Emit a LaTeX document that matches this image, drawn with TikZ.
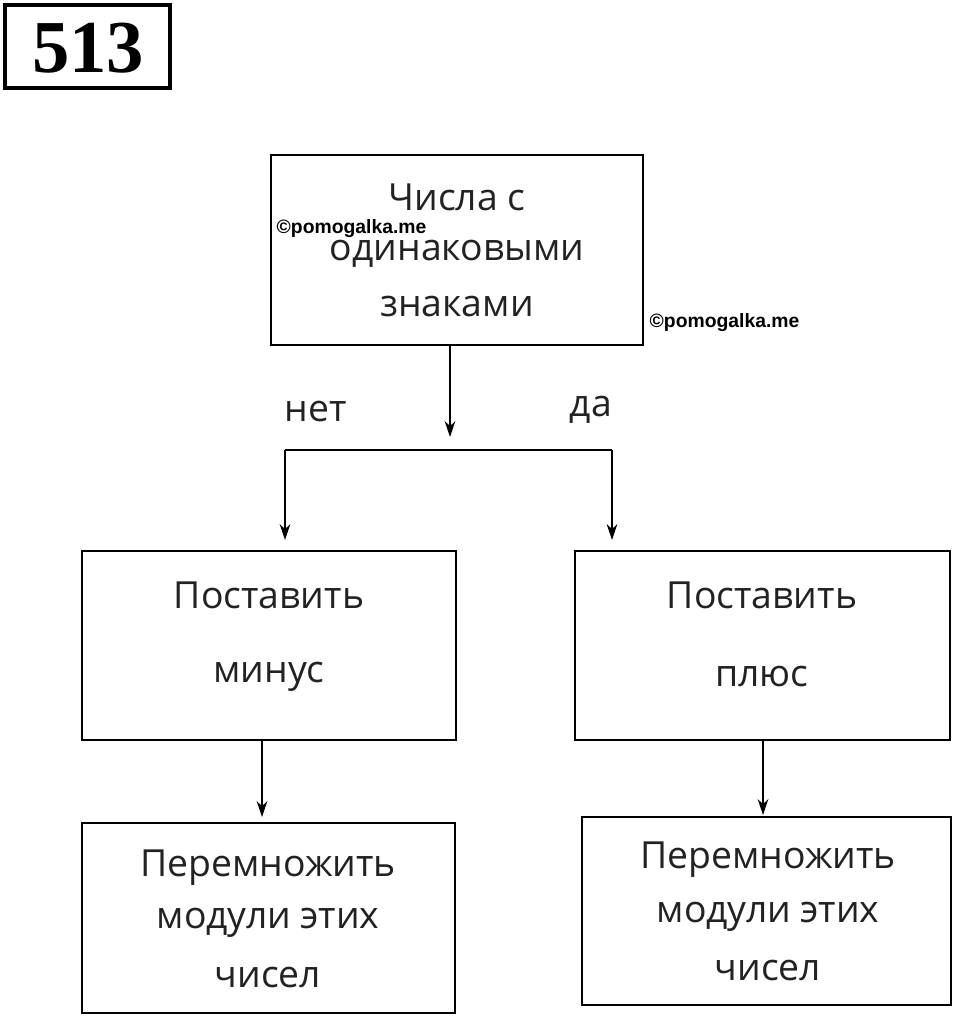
\documentclass[tikz,border=0pt]{standalone}
\usepackage{fontspec}
\setmainfont{Open Sans}
\newfontfamily\wm{Liberation Sans}
\newfontfamily\numf{Liberation Serif}
\usetikzlibrary{arrows.meta}
\begin{document}
\begin{tikzpicture}[x=0.75pt,y=-0.75pt,
  box/.style={draw,line width=1.2pt},
  txt/.style={font=\fontsize{28}{30}\selectfont\addfontfeature{Color=222222}},
  arr/.style={line width=1pt,-{Stealth[length=12pt,width=8pt]}},
  wmk/.style={font=\wm\bfseries\fontsize{14.5}{16}\selectfont,anchor=west}]
\useasboundingbox[fill=white] (0,0) rectangle (960,1017);
\draw[line width=3pt] (5,5) rectangle (170,88);
\node (num) at (88,48) {\numf\bfseries\fontsize{56}{58}\selectfont 513};
\draw[box] (271,155) rectangle (643,345);
\node[txt] (t1) at (457,197) {Числа с};
\node[txt] (t2) at (457,254) {одинаковыми};
\node[txt] (t3) at (457,307) {знаками};
\node[wmk] (w1) at (272,229) {©pomogalka.me};
\node[wmk] (w2) at (645,323) {©pomogalka.me};
\coordinate (a0) at (450,345);
\coordinate (a1) at (450,437);
\draw[arr] (a0) -- (a1);
\coordinate (hl) at (285,450);
\coordinate (hr) at (612,450);
\coordinate (dl) at (285,540);
\coordinate (dr) at (612,540);
\draw[line width=1pt] (hl) -- (hr);
\draw[arr] (hl) -- (dl);
\draw[arr] (hr) -- (dr);
\node[txt] (no) at (316,412) {нет};
\node[txt] (yes) at (591,410) {да};
\draw[box] (82,551) rectangle (456,740);
\node[txt] (l1) at (269,595) {Поставить};
\node[txt] (l2) at (269,677) {минус};
\draw[box] (575,551) rectangle (950,740);
\node[txt] (r1) at (762,595) {Поставить};
\node[txt] (r2) at (762,677) {плюс};
\coordinate (b0) at (262,740);
\coordinate (b1) at (262,817);
\coordinate (c0) at (763,740);
\coordinate (c1) at (763,815);
\draw[arr] (b0) -- (b1);
\draw[arr] (c0) -- (c1);
\draw[box] (82,823) rectangle (455,1013);
\node[txt] (bl1) at (268,868) {Перемножить};
\node[txt] (bl2) at (268,923) {модули этих};
\node[txt] (bl3) at (268,977) {чисел};
\draw[box] (582,817) rectangle (951,1005);
\node[txt] (br1) at (768,860) {Перемножить};
\node[txt] (br2) at (768,917) {модули этих};
\node[txt] (br3) at (768,970) {чисел};
\end{tikzpicture}
\end{document}
